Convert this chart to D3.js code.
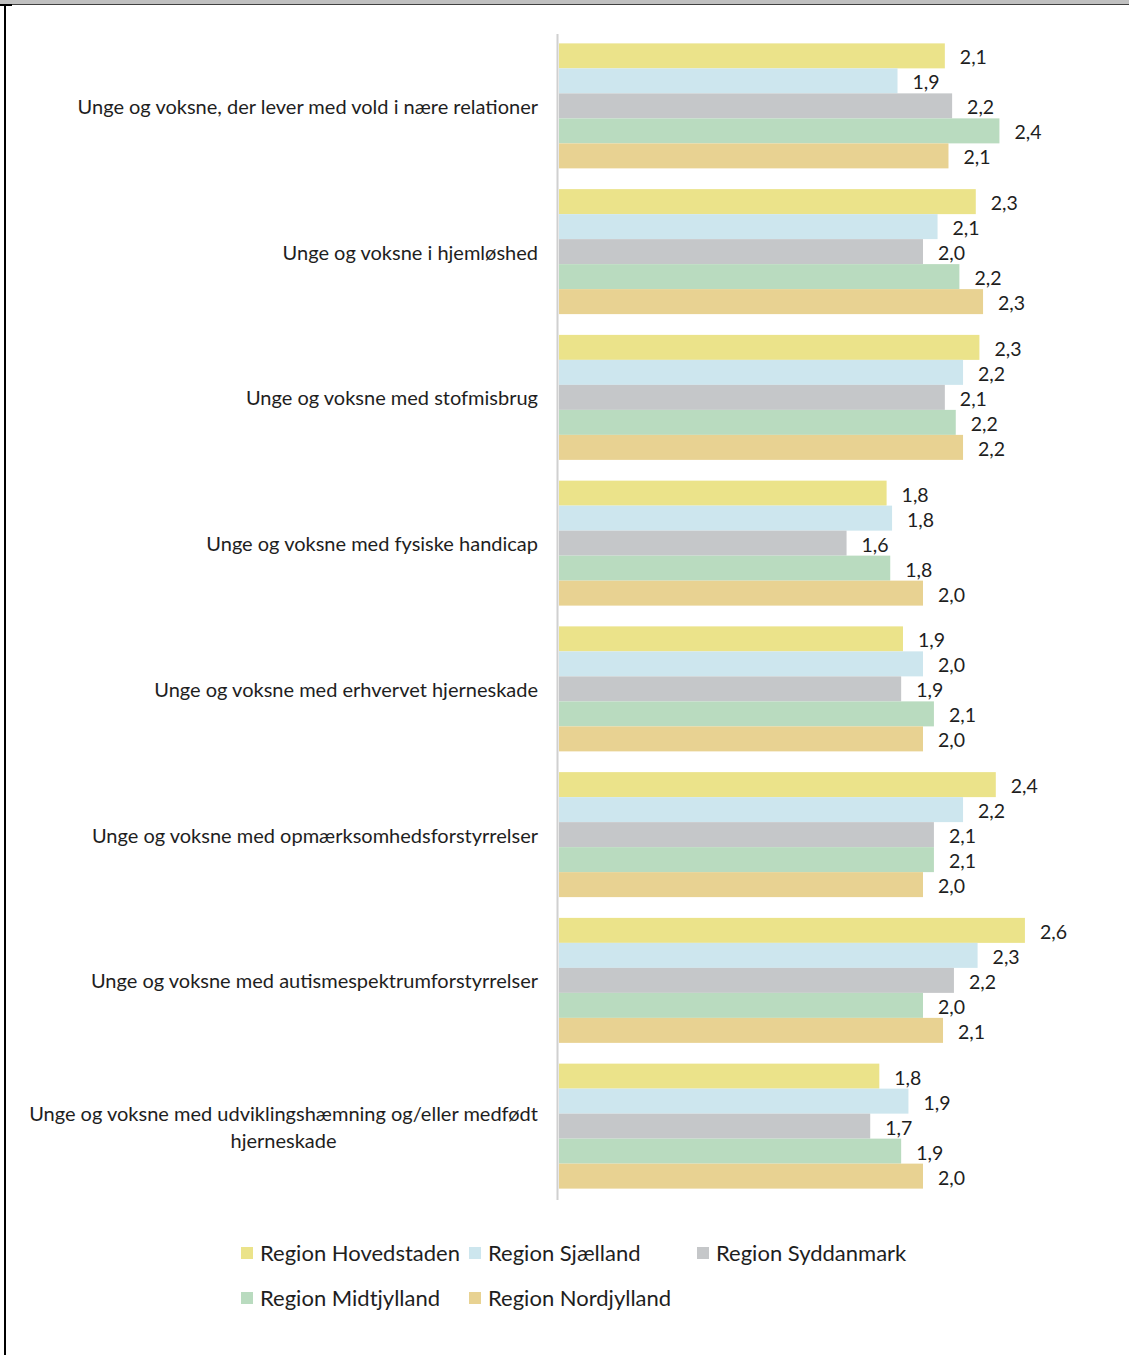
<!DOCTYPE html>
<html>
<head>
<meta charset="utf-8">
<script src="https://cdn.jsdelivr.net/npm/d3@7"></script>
<style>
  html, body { margin: 0; padding: 0; background: #ffffff; }
  svg { display: block; }
</style>
</head>
<body>
<svg id="chart" width="1129" height="1355"></svg>
<script>
// ---- Data ----
const categories = [
  "Unge og voksne, der lever med vold i nære relationer",
  "Unge og voksne i hjemløshed",
  "Unge og voksne med stofmisbrug",
  "Unge og voksne med fysiske handicap",
  "Unge og voksne med erhvervet hjerneskade",
  "Unge og voksne med opmærksomhedsforstyrrelser",
  "Unge og voksne med autismespektrumforstyrrelser",
  "Unge og voksne med udviklingshæmning og/eller medfødt hjerneskade"
];
const series = ["Region Hovedstaden", "Region Sjælland", "Region Syddanmark", "Region Midtjylland", "Region Nordjylland"];
const hovedstaden = [2.12, 2.29, 2.31, 1.80, 1.89, 2.40, 2.56, 1.76];
const sjaelland   = [1.86, 2.08, 2.22, 1.83, 2.00, 2.22, 2.30, 1.92];
const syddanmark  = [2.16, 2.00, 2.12, 1.58, 1.88, 2.06, 2.17, 1.71];
const midtjylland = [2.42, 2.20, 2.18, 1.82, 2.06, 2.06, 2.00, 1.88];
const nordjylland = [2.14, 2.33, 2.22, 2.00, 2.00, 2.00, 2.11, 2.00];
const seriesValues = [hovedstaden, sjaelland, syddanmark, midtjylland, nordjylland];
const colors = ["#ebe38a", "#cde6ee", "#c5c7c9", "#b9dbbf", "#e8d292"];

// ---- Layout ----
const svg = d3.select("#chart");
const FONT = "Lato, 'Open Sans', sans-serif";

// frame
svg.append("rect").attr("x", 0).attr("y", 0).attr("width", 1129).attr("height", 4).attr("fill", "#c0c0c0");
svg.append("line").attr("x1", 0).attr("x2", 1129).attr("y1", 4.5).attr("y2", 4.5).attr("stroke", "#404040").attr("stroke-width", 1);
svg.append("rect").attr("x", 4).attr("y", 4).attr("width", 2).attr("height", 1351).attr("fill", "#000");
svg.append("rect").attr("x", 0).attr("y", 4).attr("width", 12).attr("height", 2).attr("fill", "#000");

const x = d3.scaleLinear().domain([0, 3]).range([559, 559 + 3 * 182]);
const y = d3.scaleBand().domain(categories).range([33, 1199]).paddingInner(0.1424).paddingOuter(0.0712);
const ySub = d3.scaleBand().domain(series).range([0, y.bandwidth()]);

const rows = [];
categories.forEach((c, i) => {
  series.forEach((s, j) => rows.push({ cat: c, ser: s, val: seriesValues[j][i], color: colors[j] }));
});

const fmt = v => d3.format(".1f")(v).replace(".", ",");

svg.append("g").selectAll("rect").data(rows).join("rect")
  .attr("x", x(0))
  .attr("y", d => y(d.cat) + ySub(d.ser))
  .attr("width", d => x(d.val) - x(0))
  .attr("height", ySub.bandwidth())
  .attr("fill", d => d.color);

svg.append("g").selectAll("text").data(rows).join("text")
  .attr("x", d => x(d.val) + 15)
  .attr("y", d => y(d.cat) + ySub(d.ser) + ySub.bandwidth() / 2 + 1)
  .attr("dominant-baseline", "central")
  .attr("font-family", FONT)
  .attr("font-size", 19.5)
  .attr("fill", "#1e1e1e")
  .text(d => fmt(d.val));

// vertical axis line
svg.append("line").attr("x1", 557.5).attr("x2", 557.5).attr("y1", 34).attr("y2", 1200)
  .attr("stroke", "#d0d0d0").attr("stroke-width", 2);

// category labels (wrap long ones)
const LSIZE = 20;
const labelG = svg.append("g");
categories.forEach(c => {
  const cy = y(c) + y.bandwidth() / 2;
  let lines = [c];
  if (c.length > 60) {
    const cut = c.lastIndexOf(" ");
    lines = [c.slice(0, cut), c.slice(cut + 1)];
  }
  const t = labelG.append("text")
    .attr("font-family", FONT).attr("font-size", LSIZE).attr("fill", "#1e1e1e");
  if (lines.length === 1) {
    t.attr("x", 538).attr("y", cy).attr("text-anchor", "end").attr("dominant-baseline", "central").text(c);
  } else {
    const tmp = labelG.append("text").attr("font-family", FONT).attr("font-size", LSIZE).text(lines[0]);
    const w = tmp.node().getComputedTextLength();
    tmp.remove();
    const cx = 538 - w / 2;
    lines.forEach((ln, k) => {
      t.append("tspan").attr("x", cx).attr("y", cy + (k - (lines.length - 1) / 2) * 27)
        .attr("text-anchor", "middle").attr("dominant-baseline", "central").text(ln);
    });
  }
});

// legend
const legendPos = [
  { x: 241, y: 1252 }, { x: 469, y: 1252 }, { x: 697, y: 1252 },
  { x: 241, y: 1297 }, { x: 469, y: 1297 }
];
const lg = svg.append("g").selectAll("g").data(series).join("g")
  .attr("transform", (d, i) => `translate(${legendPos[i].x},${legendPos[i].y})`);
lg.append("rect").attr("x", 0).attr("y", -5).attr("width", 12).attr("height", 12).attr("fill", (d, i) => colors[i]);
lg.append("text").attr("x", 19).attr("y", 0).attr("dominant-baseline", "central")
  .attr("font-family", FONT).attr("font-size", 22).attr("fill", "#1e1e1e").text(d => d);
</script>
</body>
</html>
